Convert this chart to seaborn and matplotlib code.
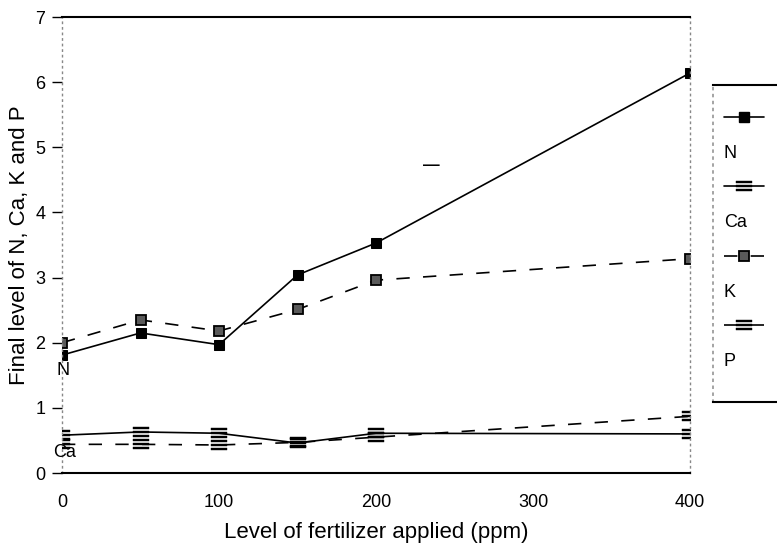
import numpy as np
import pandas as pd
import matplotlib
matplotlib.use("Agg")
import matplotlib.pyplot as plt
import seaborn as sns
from matplotlib.lines import Line2D

# ---- data ----
levels = [0, 50, 100, 150, 200, 400]
n_vals = [1.81, 2.15, 1.97, 3.04, 3.53, 6.14]
ca_vals = [0.58, 0.63, 0.61, 0.46, 0.61, 0.60]
k_vals = [2.00, 2.35, 2.18, 2.51, 2.96, 3.29]
p_vals = [0.44, 0.44, 0.43, 0.47, 0.55, 0.87]
series_names = ["N", "Ca", "K", "P"]
x_ticks = [0, 100, 200, 300, 400]
y_ticks = [0, 1, 2, 3, 4, 5, 6, 7]

sns.set_theme(style="white")
plt.rcParams["font.family"] = ["Liberation Sans", "DejaVu Sans"]
plt.rcParams["text.color"] = "black"
plt.rcParams["axes.labelcolor"] = "black"
plt.rcParams["xtick.color"] = "black"
plt.rcParams["ytick.color"] = "black"

fig = plt.figure(figsize=(7.77, 5.47), dpi=100)
ax = fig.add_axes([62 / 777, 1 - 473 / 547, (690 - 62) / 777, (473 - 17) / 547])

dash = (0, (8, 8))
styles = {
    "N": dict(linestyle="-", marker="s", markersize=7, markerfacecolor="black",
              markeredgecolor="black"),
    "Ca": dict(linestyle="-", marker="$\\equiv$", markersize=11,
               markerfacecolor="black", markeredgecolor="black", markeredgewidth=0.3),
    "K": dict(linestyle=dash, marker="s", markersize=7, markerfacecolor="#5a5a5a",
              markeredgecolor="black", markeredgewidth=1.3),
    "P": dict(linestyle=dash, marker="$\\equiv$", markersize=11,
              markerfacecolor="black", markeredgecolor="black", markeredgewidth=0.3),
}
values = {"N": n_vals, "Ca": ca_vals, "K": k_vals, "P": p_vals}

for name in series_names:
    sns.lineplot(x=levels, y=values[name], ax=ax, color="black", linewidth=1.2,
                 **styles[name])

ax.set_xlim(0, 400)
ax.set_ylim(0, 7)
ax.set_xticks(x_ticks)
ax.set_yticks(y_ticks)
ax.set_xticklabels([str(t) for t in x_ticks])
ax.set_yticklabels([str(t) for t in y_ticks])
ax.tick_params(axis="x", length=0, pad=15, labelsize=13, labelcolor="black")
ax.tick_params(axis="y", left=True, direction="out", length=7, width=1, pad=5,
               labelsize=13, color="black", labelcolor="black")
ax.set_xlabel("Level of fertilizer applied (ppm)", fontsize=16, labelpad=8,
              color="black")
ax.set_ylabel("Final level of N, Ca, K and P", fontsize=16, labelpad=4,
              color="black")

for s in ["top", "bottom"]:
    ax.spines[s].set_visible(True)
    ax.spines[s].set_color("black")
    ax.spines[s].set_linewidth(1.5)
for s in ["left", "right"]:
    ax.spines[s].set_visible(True)
    ax.spines[s].set_color("#888888")
    ax.spines[s].set_linewidth(1.0)
    ax.spines[s].set_linestyle((0, (1, 3)))

# stray labels in the original
ax.text(0.6, 1.58, "N", fontsize=13, ha="center", va="center", color="black")
ax.text(1.5, 0.31, "Ca", fontsize=13, ha="center", va="center", color="black")
ax.text(235, 4.72, "\u2014", fontsize=12, ha="center", va="center",
        fontweight="bold", color="black")

# legend panel at right
lax = fig.add_axes([713 / 777, 1 - 402 / 547, 0.3, (402 - 85) / 547])
lax.set_xticks([])
lax.set_yticks([])
lax.patch.set_alpha(0)
for s in ["top", "bottom"]:
    lax.spines[s].set_visible(True)
    lax.spines[s].set_color("black")
    lax.spines[s].set_linewidth(1.5)
lax.spines["left"].set_visible(True)
lax.spines["left"].set_color("#999999")
lax.spines["left"].set_linestyle((0, (1, 3)))
lax.spines["right"].set_visible(False)

handles = []
labels = []
blank = Line2D([], [], linestyle="none", marker=None)
for name in series_names:
    st = dict(styles[name])
    handles.append(Line2D([], [], color="black", linewidth=1.2, **st))
    labels.append(" ")
    handles.append(blank)
    labels.append(name)

hl = 2.2
leg = lax.legend(handles, labels, loc="upper left", bbox_to_anchor=(0.0, 0.955),
                 frameon=False, fontsize=13, handlelength=hl,
                 handletextpad=-hl, labelspacing=0.98, borderaxespad=0.2,
                 labelcolor="black")

fig.savefig("out.png", dpi=100)
